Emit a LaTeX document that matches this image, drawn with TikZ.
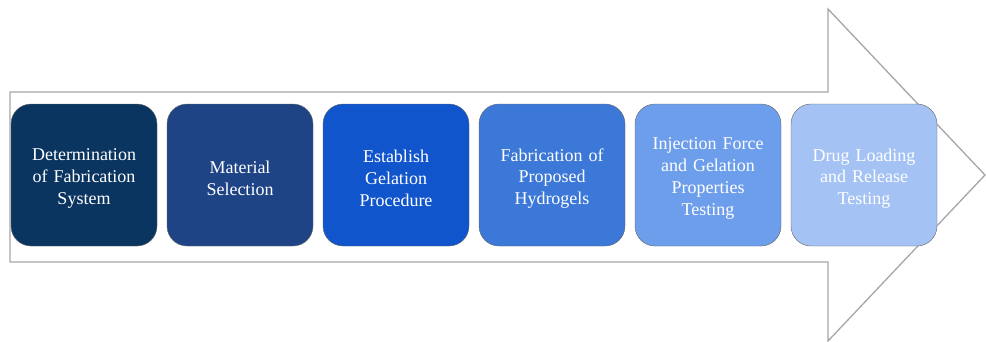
\documentclass[tikz,border=0pt]{standalone}
\usepackage{fontspec}
\setmainfont{Liberation Serif}
\definecolor{stepA}{HTML}{0B3561}
\definecolor{stepB}{HTML}{1F4486}
\definecolor{stepC}{HTML}{1155CC}
\definecolor{stepD}{HTML}{3C78D8}
\definecolor{stepE}{HTML}{6D9EEB}
\definecolor{stepF}{HTML}{A4C2F4}
\tikzset{stagebox/.style={draw=gray!80!black,rectangle,rounded corners=20pt,minimum width=146pt,minimum height=142pt},
    stagetext/.style={text width=140pt,align=center,text=white,yshift=-3.5pt,font=\fontsize{18}{21.7}\selectfont}}
\newcommand{\stage}[5]{\node[stagebox,fill=#4,label={[stagetext]center:{#5}}] (#1) at (#2,#3) {};}

\begin{document}
\begin{tikzpicture}[x=1pt,y=-1pt]
    \useasboundingbox (0,0) rectangle (986,341);
    % big process arrow
    \draw[gray!70,line width=1.3pt,fill=white] (10,92) -- (828,92) -- (828,9) -- (985,175) -- (828,341) -- (828,262) -- (10,262) -- cycle;
    \stage{S1}{84}{175}{stepA}{Determination\\of Fabrication\\System}
    \stage{S2}{240}{175}{stepB}{Material\\Selection}
    \stage{S3}{396}{175}{stepC}{Establish\\Gelation\\Procedure}
    \stage{S4}{552}{175}{stepD}{Fabrication of\\Proposed\\Hydrogels}
    \stage{S5}{708}{175}{stepE}{Injection Force\\and Gelation\\Properties\\Testing}
    \stage{S6}{864}{175}{stepF}{Drug Loading\\and Release\\Testing}
\end{tikzpicture}
\end{document}
